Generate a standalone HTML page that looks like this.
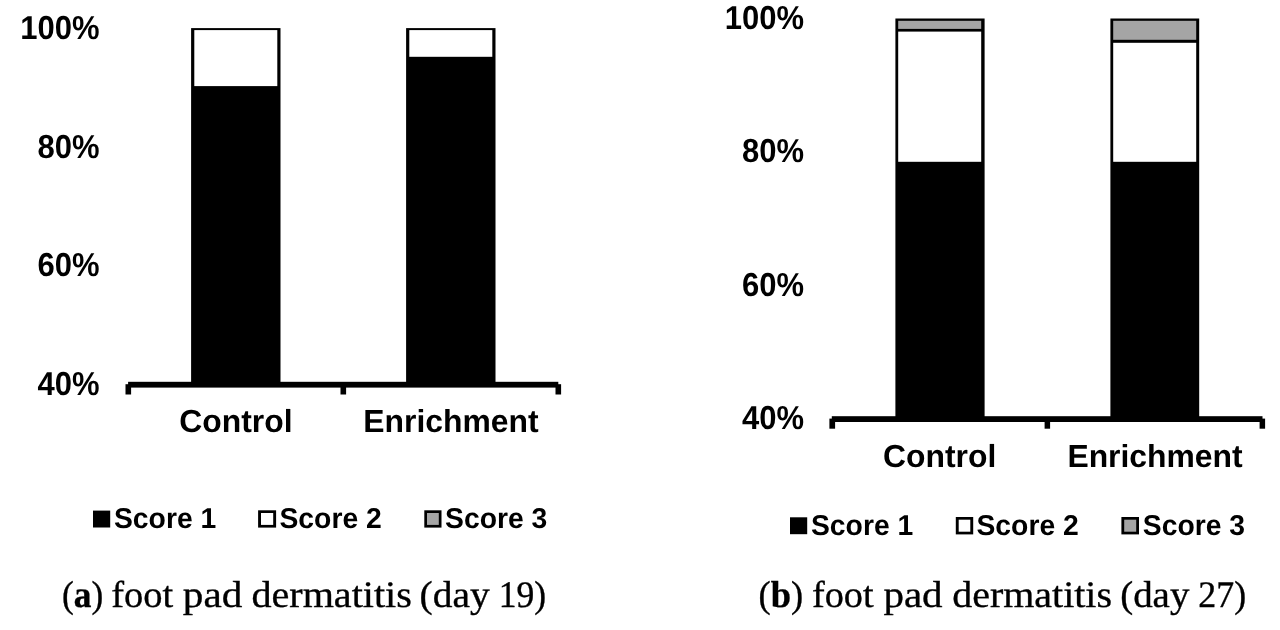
<!DOCTYPE html>
<html lang="en">
<head>
<meta charset="utf-8">
<title>Foot pad dermatitis scores</title>
<style>
  html, body { margin: 0; padding: 0; background: #ffffff; }
  body { width: 1280px; height: 630px; overflow: hidden; position: relative; }
  svg { position: absolute; left: 0; top: 0; display: block; }
  text { fill: #000; text-rendering: geometricPrecision; }
  .yl, .cat, .lg { font-family: "Liberation Sans", sans-serif; font-weight: 700; }
  .cap { font-family: "Liberation Serif", serif; font-size: 37.5px; stroke: #000; stroke-width: 0.35px; }
  .cap .b { font-weight: 700; }
  .k { fill: #000; }
  .w { fill: #fff; }
  .g { fill: #a5a5a5; }
</style>
</head>
<body>
<svg width="1280" height="630" viewBox="0 0 1280 630">
  <rect x="0" y="0" width="1280" height="630" fill="#ffffff"/>

  <!-- ============ chart (a) ============ -->
  <g id="chart-a">
    <!-- y axis labels -->
    <text class="yl" transform="translate(99.50 38.80) scale(0.9346 1)" font-size="33.17" text-anchor="end">100%</text>
    <text class="yl" transform="translate(99.50 157.50) scale(0.9346 1)" font-size="33.17" text-anchor="end">80%</text>
    <text class="yl" transform="translate(99.50 276.20) scale(0.9346 1)" font-size="33.17" text-anchor="end">60%</text>
    <text class="yl" transform="translate(99.50 394.90) scale(0.9346 1)" font-size="33.17" text-anchor="end">40%</text>
    <!-- bar: Control -->
    <rect class="k" x="191.1" y="28.1" width="89.4" height="357"/>
    <rect class="w" x="194.3" y="30.1" width="83" height="56"/>
    <!-- bar: Enrichment -->
    <rect class="k" x="406.1" y="28.1" width="89.4" height="357"/>
    <rect class="w" x="409.3" y="30.1" width="83" height="26.7"/>
    <!-- x axis -->
    <rect class="k" x="128.1" y="381.8" width="430.2" height="5.8"/>
    <rect class="k" x="125.5" y="384.2" width="5.6" height="10.3"/>
    <rect class="k" x="340.5" y="384.2" width="5.6" height="10.3"/>
    <rect class="k" x="555.5" y="384.2" width="5.6" height="10.3"/>
    <!-- category labels -->
    <text class="cat" transform="translate(235.90 432.40) scale(1.0000 1)" font-size="31.85" text-anchor="middle">Control</text>
    <text class="cat" transform="translate(450.90 432.40) scale(1.0000 1)" font-size="31.85" text-anchor="middle">Enrichment</text>
    <!-- legend -->
    <rect class="k" x="93" y="510.6" width="17.2" height="16.9"/>
    <text class="lg" transform="translate(114.00 528.00) scale(0.9852 1)" font-size="28.72" text-anchor="start">Score 1</text>
    <rect class="k" x="258.1" y="510.3" width="18" height="17.3"/>
    <rect class="w" x="261" y="513" width="12.2" height="11.9"/>
    <text class="lg" transform="translate(279.50 528.00) scale(0.9852 1)" font-size="28.72" text-anchor="start">Score 2</text>
    <rect class="k" x="424.3" y="510.3" width="17.2" height="17.3"/>
    <rect class="g" x="427" y="513" width="11.8" height="11.9"/>
    <text class="lg" transform="translate(445.10 528.00) scale(0.9852 1)" font-size="28.72" text-anchor="start">Score 3</text>
    <!-- caption -->
    <text class="cap" y="607.2"><tspan x="62" textLength="41.2" lengthAdjust="spacingAndGlyphs">(<tspan class="b">a</tspan>)</tspan> <tspan x="111.2" textLength="62.0" lengthAdjust="spacingAndGlyphs">foot</tspan> <tspan x="182.8" textLength="59.5" lengthAdjust="spacingAndGlyphs">pad</tspan> <tspan x="251.4" textLength="160.5" lengthAdjust="spacingAndGlyphs">dermatitis</tspan> <tspan x="419.6" textLength="70" lengthAdjust="spacingAndGlyphs">(day</tspan> <tspan x="498.8" textLength="47.4" lengthAdjust="spacingAndGlyphs">19)</tspan></text>
  </g>

  <!-- ============ chart (b) ============ -->
  <g id="chart-b">
    <!-- y axis labels -->
    <text class="yl" transform="translate(804.10 29.00) scale(0.9346 1)" font-size="33.17" text-anchor="end">100%</text>
    <text class="yl" transform="translate(804.10 162.20) scale(0.9346 1)" font-size="33.17" text-anchor="end">80%</text>
    <text class="yl" transform="translate(804.10 295.50) scale(0.9346 1)" font-size="33.17" text-anchor="end">60%</text>
    <text class="yl" transform="translate(804.10 428.70) scale(0.9346 1)" font-size="33.17" text-anchor="end">40%</text>
    <!-- bar: Control -->
    <rect class="k" x="895.4" y="18.5" width="89.2" height="401"/>
    <rect class="g" x="898.2" y="20.8" width="83" height="8.1"/>
    <rect class="w" x="898.2" y="31.6" width="83" height="130.2"/>
    <!-- bar: Enrichment -->
    <rect class="k" x="1110.4" y="18.5" width="88.8" height="401"/>
    <rect class="g" x="1113.2" y="20.8" width="83" height="19"/>
    <rect class="w" x="1113.2" y="42.8" width="83" height="119"/>
    <!-- x axis -->
    <rect class="k" x="831.8" y="416.2" width="430.7" height="5.8"/>
    <rect class="k" x="829.4" y="418.6" width="5.7" height="10.1"/>
    <rect class="k" x="1044.6" y="418.6" width="5.5" height="10.1"/>
    <rect class="k" x="1259.6" y="418.6" width="5.5" height="10.1"/>
    <!-- category labels -->
    <text class="cat" transform="translate(939.70 467.00) scale(1.0000 1)" font-size="31.85" text-anchor="middle">Control</text>
    <text class="cat" transform="translate(1155.00 467.00) scale(1.0000 1)" font-size="31.85" text-anchor="middle">Enrichment</text>
    <!-- legend -->
    <rect class="k" x="790" y="517.3" width="17.2" height="16.9"/>
    <text class="lg" transform="translate(811.00 534.80) scale(0.9852 1)" font-size="28.72" text-anchor="start">Score 1</text>
    <rect class="k" x="955.8" y="517" width="17.4" height="17.4"/>
    <rect class="w" x="958.7" y="519.7" width="11.6" height="12"/>
    <text class="lg" transform="translate(976.50 534.80) scale(0.9852 1)" font-size="28.72" text-anchor="start">Score 2</text>
    <rect class="k" x="1121.4" y="517" width="17.6" height="17.4"/>
    <rect class="g" x="1124.2" y="519.7" width="12" height="12"/>
    <text class="lg" transform="translate(1142.80 534.80) scale(0.9852 1)" font-size="28.72" text-anchor="start">Score 3</text>
    <!-- caption -->
    <text class="cap" y="607.2"><tspan x="758.6" textLength="44.6" lengthAdjust="spacingAndGlyphs">(<tspan class="b">b</tspan>)</tspan> <tspan x="811.9" textLength="61.7" lengthAdjust="spacingAndGlyphs">foot</tspan> <tspan x="883.4" textLength="59.2" lengthAdjust="spacingAndGlyphs">pad</tspan> <tspan x="952.2" textLength="159.8" lengthAdjust="spacingAndGlyphs">dermatitis</tspan> <tspan x="1120.2" textLength="69.2" lengthAdjust="spacingAndGlyphs">(day</tspan> <tspan x="1198.3" textLength="47.8" lengthAdjust="spacingAndGlyphs">27)</tspan></text>
  </g>
</svg>
</body>
</html>
